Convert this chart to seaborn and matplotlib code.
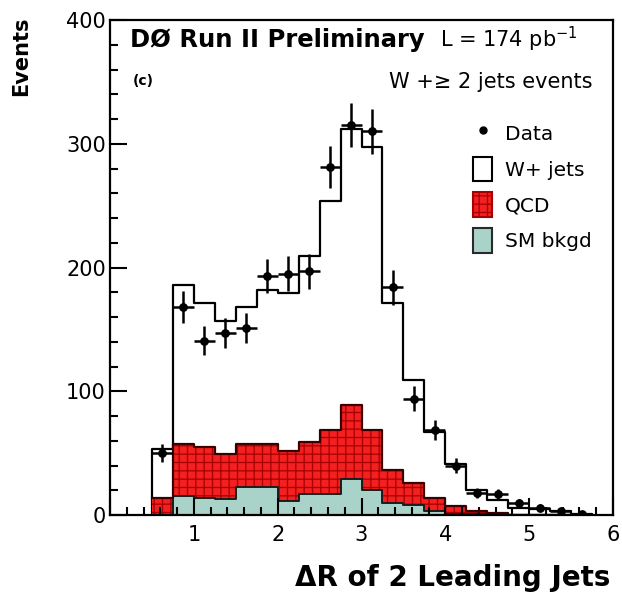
import numpy as np
import pandas as pd
import matplotlib
matplotlib.use("Agg")
import matplotlib.pyplot as plt
from matplotlib.patches import Patch
from matplotlib.lines import Line2D
from matplotlib.ticker import MultipleLocator
import seaborn as sns

# ---- binning (Delta R of the two leading jets) ----
bin_edges = [0.50, 0.75, 1.00, 1.25, 1.50, 1.75, 2.00, 2.25, 2.50, 2.75, 3.00,
             3.25, 3.50, 3.75, 4.00, 4.25, 4.50, 4.75, 5.00, 5.25, 5.50, 5.75]

# ---- per-bin event counts ----
sm_bkgd = [0, 15, 14, 13, 23, 23, 11, 17, 17, 29, 20, 10, 8, 3, 1, 0.5, 0, 0, 0, 0, 0]
qcd = [14, 42, 41, 36, 34, 34, 41, 42, 52, 60, 49, 26, 18, 11, 6, 2.5, 2, 0, 0, 0, 0]
w_jets = [39, 129, 116, 108, 111, 125, 127, 150, 185, 223, 228, 135, 83, 53, 34, 17, 10, 6, 5, 3, 1]
data = [50, 168, 141, 147, 151, 193, 195, 197, 281, 315, 310, 184, 94, 69, 40, 18, 17, 10, 6, 3, 1]
data_err = [7, 13, 12, 12, 12, 14, 14, 14, 17, 18, 18, 14, 10, 8, 6, 4, 4, 3, 2.5, 2, 1]

edges = np.array(bin_edges)
centers = 0.5 * (edges[:-1] + edges[1:])
half_w = 0.5 * np.diff(edges)

sm_arr = np.array(sm_bkgd, float)
qcd_top = sm_arr + np.array(qcd, float)
total = qcd_top + np.array(w_jets, float)

df = pd.DataFrame({"dR": centers, "sm": sm_arr, "qcd_top": qcd_top,
                   "total": total, "data": data, "err": data_err})

RED = "#f22020"
GRID_RED = "#a80000"
TEAL = "#a9d3c9"

plt.rcParams["font.family"] = ["DejaVu Sans"]
plt.rcParams["mathtext.fontset"] = "dejavusans"
plt.rcParams["hatch.linewidth"] = 0.9

fig = plt.figure(figsize=(6.22, 5.94), dpi=100)
ax = fig.add_axes([110 / 622, 1 - 515 / 594, (613 - 110) / 622, (515 - 20) / 594])


def stacked_layer(col, face, edge, hatch=None, lw=1.6):
    n0 = len(ax.collections)
    sns.histplot(data=df, x="dR", weights=col, bins=list(bin_edges), element="step",
                 fill=True, ax=ax, color=face, alpha=1.0)
    art = ax.collections[n0]
    art.set_facecolor(face)
    art.set_alpha(1.0)
    if hatch:
        art.set_edgecolor(GRID_RED)
        art.set_hatch(hatch)
        art.set_linewidth(0)
        # outline on top of the hatched fill
        sns.histplot(data=df, x="dR", weights=col, bins=list(bin_edges), element="step",
                     fill=False, ax=ax, color=edge, linewidth=lw)
    else:
        art.set_edgecolor(edge)
        art.set_linewidth(lw)


# stacked backgrounds: W+jets on top of QCD on top of SM
stacked_layer("total", "white", "black")
stacked_layer("qcd_top", RED, "#3a0000", hatch="++")
stacked_layer("sm", TEAL, "#1c1c1c", lw=1.4)

# data points with errors
ax.errorbar(df["dR"], df["data"], yerr=df["err"], xerr=half_w, fmt="none",
            ecolor="black", elinewidth=1.8, capsize=0, zorder=5)
sns.scatterplot(data=df, x="dR", y="data", ax=ax, color="black", s=40,
                edgecolor="black", linewidth=0, zorder=6)

# axes
ax.set_xlim(0, 6)
ax.set_ylim(0, 400)
ax.set_xticks([0, 1, 2, 3, 4, 5, 6])
ax.set_xticklabels(["", "1", "2", "3", "4", "5", "6"])
ax.set_yticks([0, 100, 200, 300, 400])
ax.xaxis.set_minor_locator(MultipleLocator(0.2))
ax.yaxis.set_minor_locator(MultipleLocator(20))
ax.tick_params(axis="both", which="both", direction="in", top=False, right=False,
               labelsize=15, width=1.5, color="black")
ax.tick_params(axis="both", which="major", length=12)
ax.tick_params(axis="both", which="minor", length=6)
ax.tick_params(axis="x", which="major", pad=7)
ax.tick_params(axis="y", which="major", pad=3)
for s in ax.spines.values():
    s.set_linewidth(1.6)
    s.set_color("black")

ax.set_xlabel("")
ax.set_ylabel("")
fig.text(610 / 622, 1 - 578 / 594, "\u0394R of 2 Leading Jets", ha="right",
         va="center", fontsize=20, fontweight="bold")
fig.text(21 / 622, 1 - 17 / 594, "Events", ha="center", va="top",
         rotation=90, fontsize=15, fontweight="bold")

# annotations
ax.text(0.24, 378, "D\u00d8 Run II Preliminary", fontsize=17.5, fontweight="bold",
        ha="left", va="baseline")
ax.text(3.94, 378, r"L = 174 pb$^{-1}$", fontsize=15, ha="left", va="baseline")
ax.text(0.27, 351, "(c)", fontsize=10, fontweight="bold", ha="left", va="center")
ax.text(5.75, 345, "W +\u2265 2 jets events", fontsize=15, ha="right", va="baseline")

# legend
handles = [
    Line2D([], [], marker="o", color="black", linestyle="none", markersize=5),
    Patch(facecolor="white", edgecolor="black", linewidth=1.5),
    Patch(facecolor=RED, edgecolor=GRID_RED, hatch="++", linewidth=1.5),
    Patch(facecolor=TEAL, edgecolor="#2a2a2a", linewidth=1.5),
]
labels = ["Data", "W+ jets", "QCD", "SM bkgd"]
ax.legend(handles, labels, loc="upper left",
          bbox_to_anchor=((473 - 110) / 503, 1 - (121 - 20) / 495),
          frameon=False, fontsize=14.5, handlelength=0.95, handleheight=1.5,
          labelspacing=0.55, handletextpad=0.65, borderpad=0, borderaxespad=0)

fig.savefig("out.png", dpi=100, facecolor="white")
